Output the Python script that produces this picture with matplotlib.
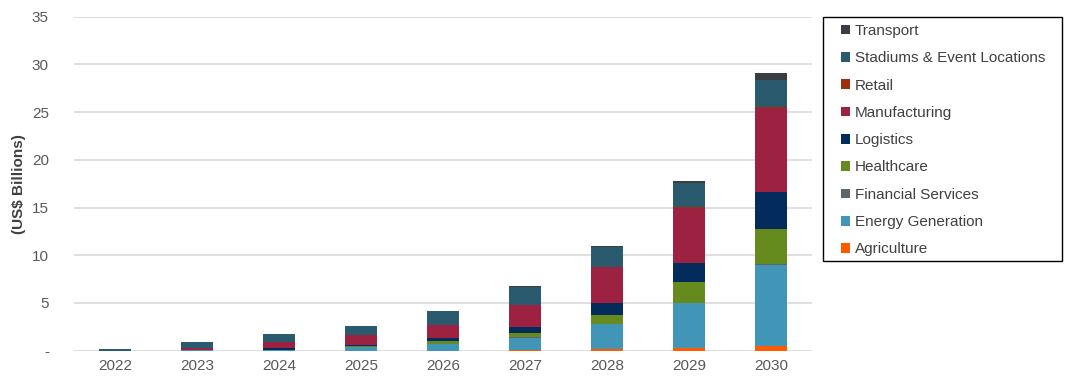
import numpy as np
import matplotlib.pyplot as plt
from matplotlib.patches import Patch, Rectangle

years = ['2022', '2023', '2024', '2025', '2026', '2027', '2028', '2029', '2030']

agriculture = [0.0, 0.0, 0.0, 0.0, 0.02, 0.07, 0.17, 0.3, 0.5]
energy = [0.0, 0.03, 0.1, 0.35, 0.7, 1.3, 2.6, 4.7, 8.5]
financial = [0.0, 0.0, 0.0, 0.0, 0.0, 0.02, 0.03, 0.05, 0.05]
healthcare = [0.0, 0.0, 0.0, 0.14, 0.28, 0.5, 0.95, 2.1, 3.7]
logistics = [0.0, 0.0, 0.15, 0.14, 0.28, 0.55, 1.2, 2.05, 3.9]
manufacturing = [0.02, 0.22, 0.63, 1.0, 1.37, 2.4, 3.8, 5.8, 8.8]
retail = [0.0, 0.0, 0.0, 0.0, 0.0, 0.0, 0.02, 0.03, 0.05]
stadiums = [0.15, 0.63, 0.87, 1.0, 1.5, 1.85, 2.05, 2.5, 2.9]
transport = [0.0, 0.0, 0.0, 0.0, 0.0, 0.05, 0.15, 0.3, 0.7]

series = [
    ('Agriculture', agriculture, '#ff5a00'),
    ('Energy Generation', energy, '#4196b7'),
    ('Financial Services', financial, '#5b6570'),
    ('Healthcare', healthcare, '#658a1e'),
    ('Logistics', logistics, '#032b5b'),
    ('Manufacturing', manufacturing, '#9d2141'),
    ('Retail', retail, '#9a300c'),
    ('Stadiums & Event Locations', stadiums, '#2a5a6d'),
    ('Transport', transport, '#3a3e43'),
]

plt.rcParams['font.family'] = ['Liberation Sans', 'DejaVu Sans']

fig = plt.figure(figsize=(10.78, 3.87), dpi=100)
ax = fig.add_axes([0.0686, 0.0938, 0.6846, 0.863])

x = np.arange(len(years))
bottom = np.zeros(len(years))
for name, vals, color in series:
    vals = np.array(vals)
    ax.bar(x, vals, 0.4, bottom=bottom, color=color, edgecolor='none', zorder=3)
    bottom += vals

ax.set_xlim(-0.5, len(years) - 0.5)
ax.set_ylim(0, 35)
ax.set_xticks(x)
ax.set_xticklabels(years)
yt = [0, 5, 10, 15, 20, 25, 30, 35]
ax.set_yticks(yt)
ax.set_yticklabels(['-'] + [str(v) for v in yt[1:]])
ax.tick_params(length=0, labelsize=11, labelcolor='#595959')
ax.tick_params(axis='y', pad=18)
ax.tick_params(axis='x', pad=6)
ax.grid(axis='y', color='#d9d9d9', linewidth=1.2, zorder=0)
for s in ax.spines.values():
    s.set_visible(False)
ax.set_ylabel('(US$ Billions)', fontsize=11, fontweight='bold', color='#404040', labelpad=4)

# legend box drawn separately so the padding matches
W, H = 1078, 387
box = Rectangle((823 / W, 1 - 261 / H), (1062 - 823) / W, (261 - 17) / H,
                transform=fig.transFigure, fill=False, edgecolor='black', linewidth=1.0)
fig.patches.append(box)

handles = [Patch(facecolor=c, label=n) for n, v, c in series][::-1]
leg = fig.legend(handles=handles, loc='upper left', bbox_to_anchor=(841 / W, 1 - 24 / H),
                 frameon=False, fontsize=11,
                 handlelength=0.6, handleheight=0.6, handletextpad=0.3,
                 labelspacing=0.87, borderpad=0, borderaxespad=0)
for t in leg.get_texts():
    t.set_color('#404040')

fig.savefig('out.png', dpi=100)
